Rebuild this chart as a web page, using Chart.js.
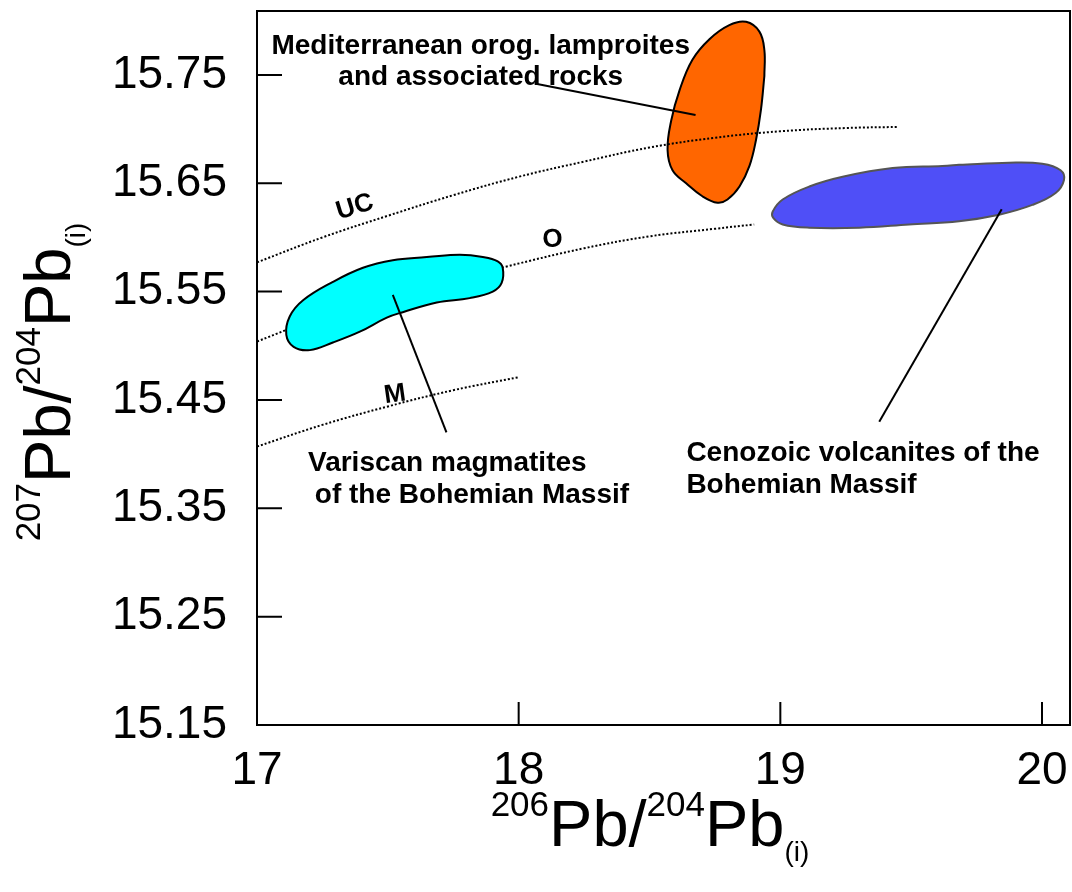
<!DOCTYPE html>
<html>
<head>
<meta charset="utf-8">
<script src="https://cdn.jsdelivr.net/npm/chart.js@4.4.1/dist/chart.umd.min.js"></script>
<style>
  html, body { margin: 0; padding: 0; background: #fff; }
  #wrap { width: 1072px; height: 892px; position: relative; }
</style>
</head>
<body>
<div id="wrap"><canvas id="pbChart"></canvas></div>
<script>
const xTicks = [17, 18, 19, 20];
const yTicks = [15.15, 15.25, 15.35, 15.45, 15.55, 15.65, 15.75];
const xRange = [17, 20.107];
const yRange = [15.15, 15.809];

// Pb growth curves: UC upper crust, O orogene, M mantle
const ucX = [17.0, 17.25, 17.5, 17.75, 18.0, 18.25, 18.5, 18.75, 19.0, 19.25, 19.45];
const ucY = [15.577, 15.600, 15.620, 15.639, 15.656, 15.670, 15.683, 15.692, 15.698, 15.701, 15.702];
const oX = [17.0, 17.25, 17.5, 17.75, 17.95, 18.25, 18.5, 18.75, 18.9];
const oY = [15.504, 15.527, 15.545, 15.561, 15.573, 15.590, 15.601, 15.608, 15.612];
const mX = [17.0, 17.25, 17.5, 17.75, 18.0];
const mY = [15.407, 15.427, 15.444, 15.459, 15.471];

// field outlines
const variscanX = [17.649, 17.775, 17.863, 17.920, 17.939, 17.935, 17.901, 17.813, 17.687, 17.557,
  17.496, 17.393, 17.290, 17.202, 17.140, 17.112, 17.125, 17.176, 17.290, 17.405, 17.519];
const variscanY = [15.582, 15.584, 15.582, 15.578, 15.572, 15.558, 15.550, 15.544, 15.540, 15.531,
  15.526, 15.513, 15.503, 15.496, 15.499, 15.510, 15.527, 15.542, 15.559, 15.572, 15.579];

const lamproiteX = [18.939, 18.926, 18.907, 18.882, 18.844, 18.798, 18.760, 18.702, 18.640, 18.588,
  18.569, 18.583, 18.615, 18.664, 18.729, 18.805, 18.869, 18.920, 18.939];
const lamproiteY = [15.749, 15.718, 15.690, 15.666, 15.647, 15.635, 15.632, 15.638, 15.650, 15.662,
  15.681, 15.708, 15.736, 15.764, 15.783, 15.796, 15.799, 15.790, 15.773];

const cenozoicX = [19.683, 19.874, 20.001, 20.071, 20.084, 20.052, 19.963, 19.836, 19.683, 19.492,
  19.302, 19.111, 19.009, 18.973, 18.971, 19.009, 19.111, 19.238, 19.429, 19.619];
const cenozoicY = [15.667, 15.669, 15.668, 15.662, 15.653, 15.641, 15.630, 15.621, 15.615, 15.612,
  15.609, 15.609, 15.612, 15.618, 15.624, 15.635, 15.647, 15.656, 15.664, 15.666];

// leader lines from labels to fields
const lamproiteLeaderX = [18.061, 18.676];
const lamproiteLeaderY = [15.742, 15.713];
const variscanLeaderX = [17.519, 17.724];
const variscanLeaderY = [15.547, 15.420];
const cenozoicLeaderX = [19.846, 19.378];
const cenozoicLeaderY = [15.626, 15.430];

const FONT = '"Liberation Sans", Arial, Helvetica, sans-serif';

function pts(xs, ys) {
  return xs.map((x, i) => ({ x: x, y: ys[i] }));
}
function closed(xs, ys) {
  const p = pts(xs, ys);
  p.push(p[0]);
  return p;
}

function curve(data, order) {
  return { data: data, showLine: true, borderColor: '#000', borderWidth: 2,
    borderDash: [2, 2], tension: 0.4, fill: false, order: order };
}
function field(data, fillColor, lineColor, order) {
  return { data: data, showLine: true, borderColor: lineColor, borderWidth: 2,
    backgroundColor: fillColor, fill: 'shape', tension: 0.4, order: order };
}
function leader(data) {
  return { data: data, showLine: true, borderColor: '#000', borderWidth: 2, fill: false, order: 0 };
}

const datasets = [
  leader(pts(lamproiteLeaderX, lamproiteLeaderY)),
  leader(pts(variscanLeaderX, variscanLeaderY)),
  leader(pts(cenozoicLeaderX, cenozoicLeaderY)),
  curve(pts(ucX, ucY), 1),
  field(closed(lamproiteX, lamproiteY), '#ff6600', '#000', 2),
  field(closed(cenozoicX, cenozoicY), '#4f4ff7', '#555', 3),
  field(closed(variscanX, variscanY), '#00ffff', '#000', 4),
  curve(pts(oX, oY), 5),
  curve(pts(mX, mY), 6),
];

// text placed in data units
const notes = [
  { text: 'Mediterranean orog. lamproites', x: 17.855, y: 15.7696, align: 'center' },
  { text: 'and associated rocks', x: 17.855, y: 15.7410, align: 'center' },
  { text: 'Variscan magmatites', x: 17.195, y: 15.3845, align: 'left' },
  { text: 'of the Bohemian Massif', x: 17.221, y: 15.3550, align: 'left' },
  { text: 'Cenozoic volcanites of the', x: 18.641, y: 15.3938, align: 'left' },
  { text: 'Bohemian Massif', x: 18.641, y: 15.3642, align: 'left' },
];
const curveNames = [
  { text: 'UC', x: 17.374, y: 15.628, angle: -17 },
  { text: 'O', x: 18.130, y: 15.598, angle: -4 },
  { text: 'M', x: 17.527, y: 15.455, angle: -8 },
];

function drawRich(ctx, parts, cx, baseY) {
  let total = 0;
  parts.forEach(p => {
    ctx.font = p.size + 'px ' + FONT;
    p.w = ctx.measureText(p.text).width;
    total += p.w;
  });
  let x = cx - total / 2;
  ctx.textAlign = 'left';
  ctx.textBaseline = 'alphabetic';
  parts.forEach(p => {
    ctx.font = p.size + 'px ' + FONT;
    ctx.fillText(p.text, x, baseY + p.dy);
    x += p.w;
  });
}

function titleParts(a, b) {
  return [
    { text: a, size: 35, dy: -30 },
    { text: 'Pb/', size: 65, dy: 0 },
    { text: b, size: 35, dy: -30 },
    { text: 'Pb', size: 65, dy: 0 },
    { text: '(i)', size: 28, dy: 15 },
  ];
}

const decorations = {
  id: 'decorations',
  afterDatasetsDraw(chart) {
    const { ctx, chartArea: a, scales: { x, y } } = chart;
    ctx.save();
    ctx.strokeStyle = '#000';
    ctx.lineWidth = 2;
    ctx.strokeRect(a.left, a.top, a.right - a.left, a.bottom - a.top);
    ctx.beginPath();
    xTicks.forEach(v => {
      const px = x.getPixelForValue(v);
      ctx.moveTo(px, a.bottom);
      ctx.lineTo(px, a.bottom - 23);
    });
    yTicks.forEach(v => {
      const py = y.getPixelForValue(v);
      ctx.moveTo(a.left, py);
      ctx.lineTo(a.left + 25, py);
    });
    ctx.stroke();

    ctx.fillStyle = '#000';
    ctx.font = 'bold 28px ' + FONT;
    ctx.textBaseline = 'alphabetic';
    notes.forEach(n => {
      ctx.textAlign = n.align;
      ctx.fillText(n.text, x.getPixelForValue(n.x), y.getPixelForValue(n.y));
    });

    ctx.font = 'bold 26px ' + FONT;
    ctx.textAlign = 'center';
    ctx.textBaseline = 'middle';
    curveNames.forEach(c => {
      ctx.save();
      ctx.translate(x.getPixelForValue(c.x), y.getPixelForValue(c.y));
      ctx.rotate(c.angle * Math.PI / 180);
      ctx.fillText(c.text, 0, 0);
      ctx.restore();
    });
    ctx.restore();
  },
  afterDraw(chart) {
    const { ctx } = chart;
    ctx.save();
    ctx.fillStyle = '#000';
    drawRich(ctx, titleParts('206', '204'), 650, 846);
    ctx.translate(70, 382);
    ctx.rotate(-Math.PI / 2);
    drawRich(ctx, titleParts('207', '204'), 0, 0);
    ctx.restore();
  }
};

function noPadding(s) {
  s.paddingLeft = 0;
  s.paddingRight = 0;
  s.paddingTop = 0;
  s.paddingBottom = 0;
}

new Chart(document.getElementById('pbChart'), {
  type: 'scatter',
  data: { datasets: datasets },
  options: {
    responsive: true,
    maintainAspectRatio: false,
    animation: false,
    events: [],
    layout: { padding: { top: 11, right: 2, left: 0, bottom: 0 } },
    elements: { point: { radius: 0, hoverRadius: 0 } },
    plugins: { legend: { display: false }, tooltip: { enabled: false } },
    scales: {
      x: {
        type: 'linear',
        min: xRange[0],
        max: xRange[1],
        grid: { display: false, drawTicks: false, tickLength: 0 },
        border: { display: false },
        ticks: {
          color: '#000', font: { family: FONT, size: 46 }, padding: 19,
          autoSkip: false, maxRotation: 0, callback: v => String(v)
        },
        afterBuildTicks: s => { s.ticks = xTicks.map(v => ({ value: v })); },
        afterFit: s => { s.height = 167; noPadding(s); }
      },
      y: {
        type: 'linear',
        min: yRange[0],
        max: yRange[1],
        grid: { display: false, drawTicks: false, tickLength: 0 },
        border: { display: false },
        ticks: {
          color: '#000', font: { family: FONT, size: 46 }, padding: 30,
          autoSkip: false, callback: v => Number(v).toFixed(2)
        },
        afterBuildTicks: s => { s.ticks = yTicks.map(v => ({ value: v })); },
        afterFit: s => { s.width = 257; noPadding(s); }
      }
    }
  },
  plugins: [decorations]
});
</script>
</body>
</html>
